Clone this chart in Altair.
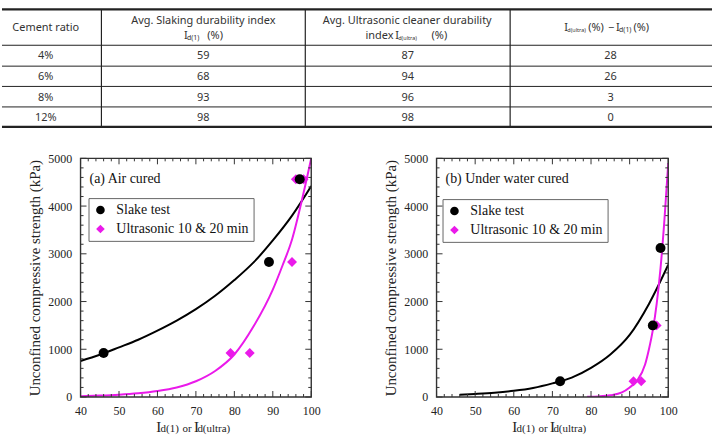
import altair as alt
import pandas as pd

# ---------------- table values ----------------
cement_ratio = ["4%", "6%", "8%", "12%"]
slaking_index = [59, 68, 93, 98]
ultrasonic_index = [87, 94, 96, 98]
index_difference = [28, 26, 3, 0]

# ---------------- (a) Air cured ----------------
a_slake_x = [46, 89, 97]
a_slake_y = [920, 2830, 4560]
a_ultra_x = [79, 84, 95, 96, 98]
a_ultra_y = [920, 920, 2830, 4560, 4560]
a_fit_slake_x = [40, 45, 50, 55, 60, 65, 70, 75, 80, 85, 90, 95, 100]
a_fit_slake_y = [755, 885, 1040, 1200, 1390, 1600, 1840, 2120, 2450, 2820, 3280, 3800, 4420]
a_fit_ultra_x = [40, 45, 50, 55, 60, 65, 70, 75, 80, 85, 90, 92.5, 95, 97.5, 100]
a_fit_ultra_y = [18, 29, 47, 77, 125, 200, 330, 545, 890, 1480, 2250, 2750, 3300, 4100, 5000]

# ---------------- (b) Under water cured ----------------
b_slake_x = [72, 96, 98]
b_slake_y = [330, 1500, 3120]
b_ultra_x = [91, 93, 97]
b_ultra_y = [330, 330, 1500]
b_fit_slake_x = [46, 50, 55, 60, 65, 70, 75, 80, 85, 90, 95, 100]
b_fit_slake_y = [45, 63, 90, 130, 190, 285, 405, 610, 890, 1300, 1950, 2770]
b_fit_ultra_x = [79, 82, 85, 88, 90, 92, 94, 95, 96, 97, 98, 99, 100]
b_fit_ultra_y = [4, 12, 35, 95, 200, 350, 680, 1000, 1400, 1950, 2700, 3700, 4900]

series_names = ["Slake test", "Ultrasonic 10 & 20 min"]
x_label_values = [40, 50, 60, 70, 80, 90, 100]
y_label_values = [0, 1000, 2000, 3000, 4000, 5000]

# ---------------- styles / layout ----------------
SERIF = "Liberation Serif"
SANS = "Noto Sans"
MAG = "#ea1aea"
INK = "#222222"
PH = 240
TXT = "#333333"

x_major = list(range(40, 101, 10))
x_minor = [v for v in range(40, 101, 2) if v % 10]
y_major = list(range(0, 5001, 1000))
y_minor = [v for v in range(0, 5001, 200) if v % 1000]


def panel(label, sx, sy, ux, uy, fsx, fsy, fux, fuy, w, lx, ly):
    xs = alt.Scale(domain=[40, 100], nice=False, zero=False)
    ys = alt.Scale(domain=[0, 5000], nice=False, zero=False)
    xaxis = alt.Axis(values=x_label_values, title=None, domain=False, ticks=False,
                     tickSize=0, grid=False, labelFont=SERIF, labelFontSize=12, format="d",
                     labelColor=INK, labelPadding=9, labelFlush=False, labelOverlap=False)
    yaxis = alt.Axis(values=y_label_values, title="Unconfined compressive strength (kPa)",
                     domain=False, ticks=False, tickSize=0, grid=False, labelFont=SERIF,
                     labelFontSize=12, labelColor=INK, labelPadding=9, labelFlush=False,
                     format="d", labelOverlap=False, titleFont=SERIF, titleFontSize=15,
                     titleFontWeight="normal", titleColor=INK, titlePadding=5)

    def X(f):
        return alt.X(f, type="quantitative", scale=xs, axis=xaxis)

    def Y(f):
        return alt.Y(f, type="quantitative", scale=ys, axis=yaxis)

    layers = []
    # curves
    layers.append(alt.Chart(pd.DataFrame({"x": fsx, "y": fsy})).mark_line(
        color="black", strokeWidth=2, interpolate="monotone", clip=True).encode(x=X("x"), y=Y("y")))
    layers.append(alt.Chart(pd.DataFrame({"x": fux, "y": fuy})).mark_line(
        color=MAG, strokeWidth=2, interpolate="monotone", clip=True).encode(x=X("x"), y=Y("y")))
    # frame
    layers.append(alt.Chart(pd.DataFrame({"x1": [40], "x2": [100], "y1": [0], "y2": [5000]})).mark_rect(
        filled=False, stroke="#333333", strokeWidth=1.4).encode(x=X("x1"), x2="x2", y=Y("y1"), y2="y2"))
    # inward ticks
    for vals, ln in ((x_major, 6), (x_minor, 3)):
        df = pd.DataFrame({"t": vals})
        layers.append(alt.Chart(df).mark_rule(color="#333333", strokeWidth=1).encode(
            x=X("t"), y=alt.value(PH), y2=alt.value(PH - ln)))
        layers.append(alt.Chart(df).mark_rule(color="#333333", strokeWidth=1).encode(
            x=X("t"), y=alt.value(0), y2=alt.value(ln)))
    for vals, ln in ((y_major, 6), (y_minor, 3)):
        df = pd.DataFrame({"t": vals})
        layers.append(alt.Chart(df).mark_rule(color="#333333", strokeWidth=1).encode(
            y=Y("t"), x=alt.value(0), x2=alt.value(ln)))
        layers.append(alt.Chart(df).mark_rule(color="#333333", strokeWidth=1).encode(
            y=Y("t"), x=alt.value(w), x2=alt.value(w - ln)))
    # points (ultrasonic first so circles sit on top)
    pts = pd.DataFrame({
        "x": ux + sx,
        "y": uy + sy,
        "series": [series_names[1]] * len(ux) + [series_names[0]] * len(sx),
    })
    leg = alt.Legend(orient="none", legendX=lx, legendY=ly, title=None, padding=5,
                     fillColor="white", strokeColor="#666666", cornerRadius=0,
                     labelFont=SERIF, labelFontSize=14, labelColor="#111111",
                     labelOffset=9, rowPadding=5, symbolSize=75, symbolStrokeWidth=0,
                     labelLimit=0)
    layers.append(alt.Chart(pts).mark_point(filled=True, opacity=1, size=100).encode(
        x=X("x"), y=Y("y"),
        color=alt.Color("series:N", scale=alt.Scale(domain=series_names, range=["black", MAG]), legend=leg),
        shape=alt.Shape("series:N", scale=alt.Scale(domain=series_names, range=["circle", "diamond"]), legend=leg),
    ))
    # panel label
    layers.append(alt.Chart(pd.DataFrame({"t": [label]})).mark_text(
        align="left", baseline="middle", font=SERIF, fontSize=14, color="#111111").encode(
        text="t:N", x=alt.value(9), y=alt.value(21)))
    # x title with subscripts
    for s, px, fs in (("I", 76, 15), ("d(1)", 80.5, 11), ("or", 102.5, 11),
                      ("I", 114, 15), ("d(ultra)", 117.5, 11)):
        layers.append(alt.Chart(pd.DataFrame({"t": [s]})).mark_text(
            align="left", baseline="alphabetic", font=SERIF, fontSize=fs, color=INK).encode(
            text="t:N", x=alt.value(px), y=alt.value(275)))
    return alt.layer(*layers).properties(width=w, height=PH)


left = panel("(a) Air cured", a_slake_x, a_slake_y, a_ultra_x, a_ultra_y,
             a_fit_slake_x, a_fit_slake_y, a_fit_ultra_x, a_fit_ultra_y, 232, 8, 40)
right = panel("(b) Under water cured", b_slake_x, b_slake_y, b_ultra_x, b_ultra_y,
              b_fit_slake_x, b_fit_slake_y, b_fit_ultra_x, b_fit_ultra_y, 233, 6, 41)

# ---------------- table ----------------
tx = alt.Scale(domain=[0, 714], range=[-79, 635])
ty = alt.Scale(domain=[0, 140], range=[0, 140])
col_x = [44, 202.5, 408, 612]
row_y = [55, 76, 97, 117]

cells = []
for i in range(len(cement_ratio)):
    for j, vals in enumerate([cement_ratio, slaking_index, ultrasonic_index, index_difference]):
        cells.append({"label": str(vals[i]), "px": col_x[j], "py": row_y[i]})
cells_df = pd.DataFrame(cells)

head_center = pd.DataFrame({
    "label": ["Cement ratio", "Avg. Slaking durability index", "Avg. Ultrasonic cleaner durability"],
    "px": [44, 202.5, 407.5], "py": [27, 20, 20]})
head_left = pd.DataFrame({
    "label": ["I", "(%)", "index", "I", "(%)", "I", "(%)", "\u2212", "I", "(%)"],
    "px": [183, 206.5, 365.5, 395.5, 432, 565.5, 589.5, 609.5, 617.5, 635],
    "py": [35, 35, 35, 35, 35, 27, 27, 27, 27, 27]})
sub_small = pd.DataFrame({
    "label": ["d(ultra)", "d(ultra)"],
    "px": [398.5, 568.5],
    "py": [37, 29]})
sub_big = pd.DataFrame({
    "label": ["d(1)", "d(1)"],
    "px": [186, 620.5],
    "py": [37, 29]})

hl = pd.DataFrame({"x1": [0] * 6, "x2": [714] * 6,
                   "y": [8.3, 44.3, 65.3, 85.7, 106.3, 126.3],
                   "w": [2.2, 1.2, 1, 1, 1, 2.2]})
vl = pd.DataFrame({"x": [100, 305, 511], "y1": [8.3] * 3, "y2": [126.3] * 3})


def TX(f):
    return alt.X(f, type="quantitative", scale=tx, axis=None)


def TY(f):
    return alt.Y(f, type="quantitative", scale=ty, axis=None)


table = alt.layer(
    alt.Chart(hl).mark_rule(color="#222222").encode(
        x=TX("x1"), x2="x2", y=TY("y"), strokeWidth=alt.StrokeWidth("w:Q", scale=None, legend=None)),
    alt.Chart(vl).mark_rule(color="#222222", strokeWidth=1.2).encode(x=TX("x"), y=TY("y1"), y2="y2"),
    alt.Chart(cells_df).mark_text(font=SANS, fontSize=11, color=TXT, baseline="middle").encode(
        x=TX("px"), y=TY("py"), text="label:N"),
    alt.Chart(head_center).mark_text(font=SANS, fontSize=11, color=TXT, baseline="middle").encode(
        x=TX("px"), y=TY("py"), text="label:N"),
    alt.Chart(head_left).mark_text(font=SANS, fontSize=11, color=TXT, baseline="middle", align="left").encode(
        x=TX("px"), y=TY("py"), text="label:N"),
    alt.Chart(sub_small).mark_text(font=SANS, fontSize=5.5, color=TXT, baseline="middle", align="left").encode(
        x=TX("px"), y=TY("py"), text="label:N"),
    alt.Chart(sub_big).mark_text(font=SANS, fontSize=7, color=TXT, baseline="middle", align="left").encode(
        x=TX("px"), y=TY("py"), text="label:N"),
).properties(width=635, height=140)

row = alt.hconcat(left, right, spacing=126).properties(bounds="flush").resolve_scale(
    x="independent", y="independent", color="independent", shape="independent")

chart = alt.vconcat(table, row, spacing=18).properties(bounds="flush", padding=0).resolve_scale(
    x="independent", y="independent", color="independent", shape="independent"
).configure_view(stroke=None)

chart.save("out.html", embed_options={"renderer": "svg", "actions": False})
